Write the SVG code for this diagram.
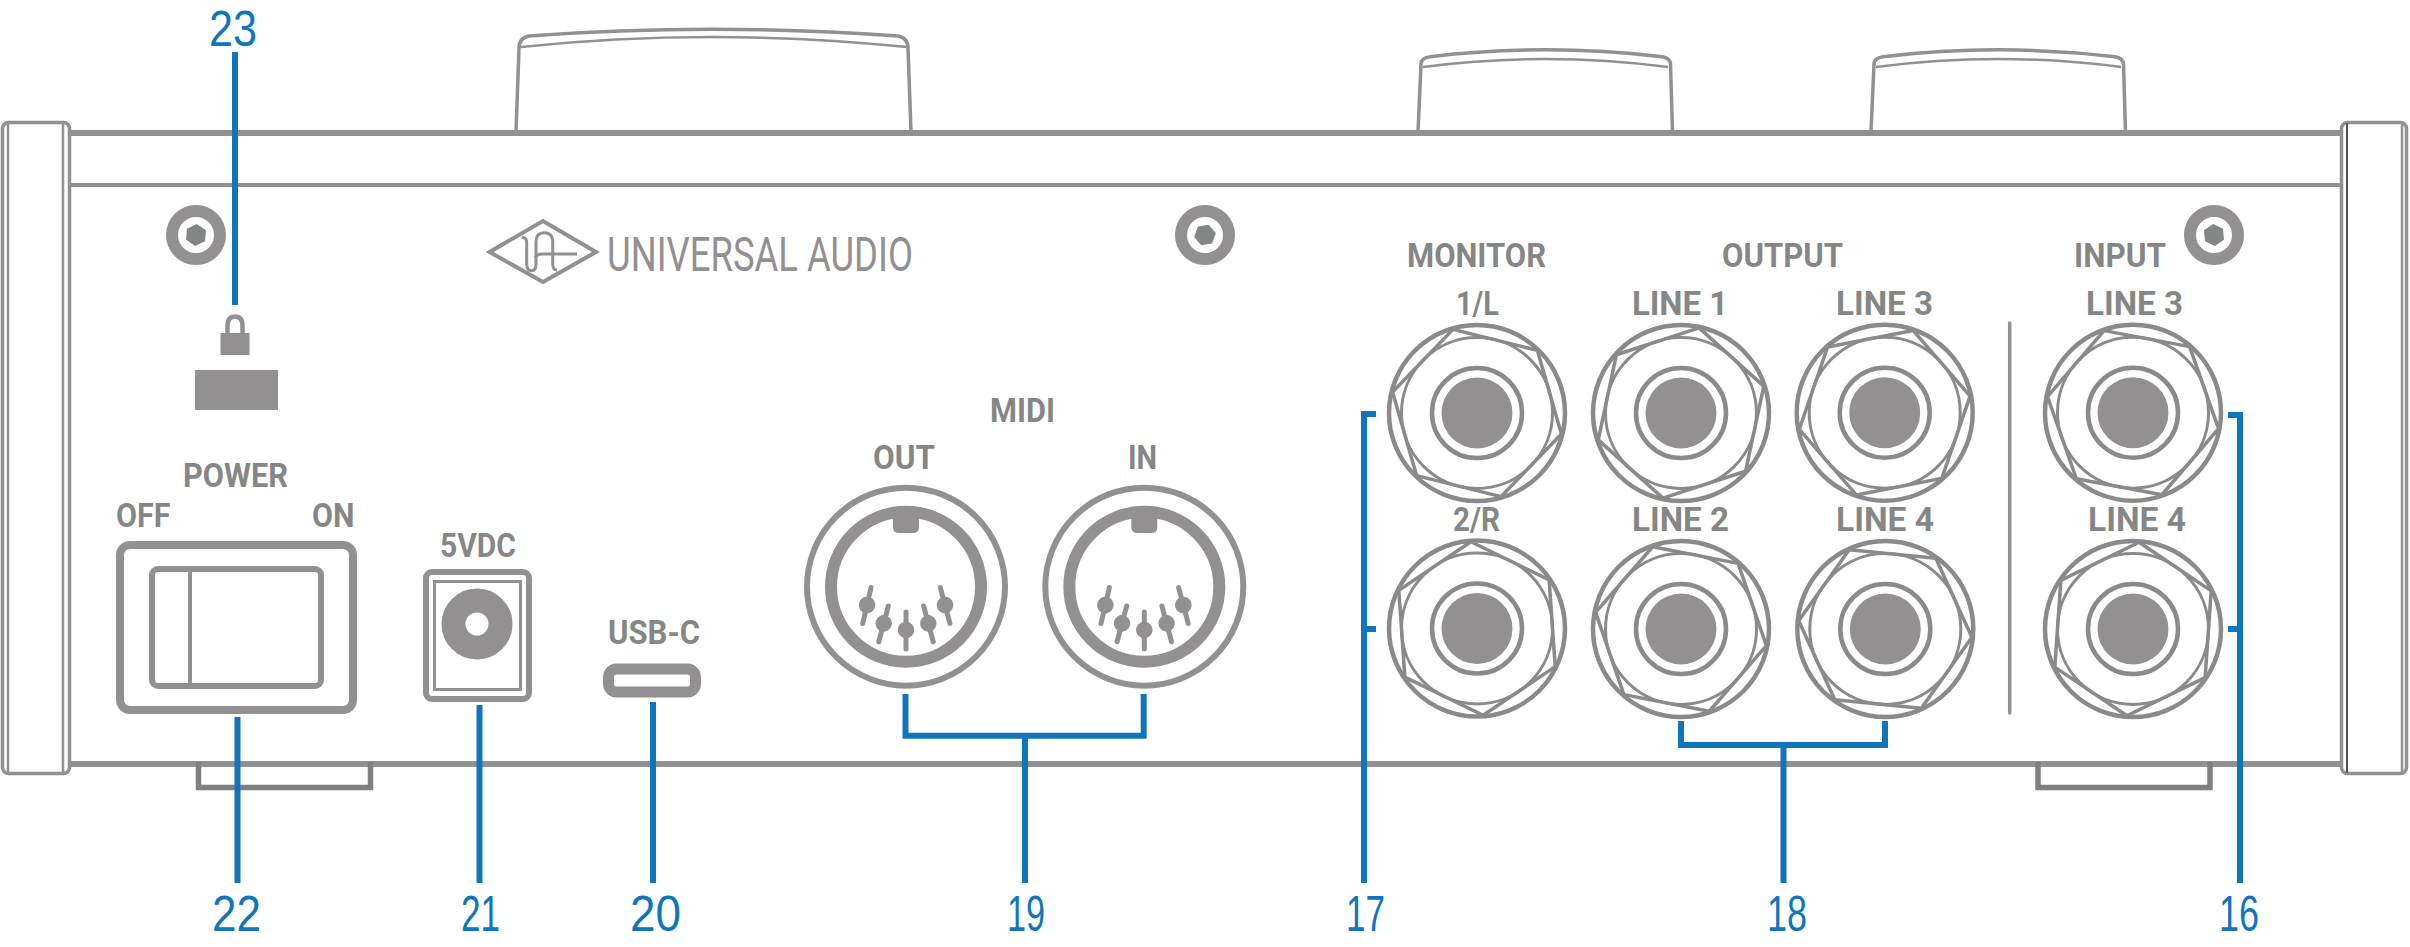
<svg xmlns="http://www.w3.org/2000/svg" xmlns:xlink="http://www.w3.org/1999/xlink" width="2410" height="947" viewBox="0 0 2410 947">
<style>
.g{fill:none;stroke:#929090}
.f{fill:#929090}
.h{fill:#848685}
.foot{fill:none;stroke:#808080;stroke-width:5.5px}
.lab{font-family:Roboto,"Liberation Sans",sans-serif;font-weight:700;font-size:33px;fill:#858786}
.num{font-family:"Liberation Sans",Arial,sans-serif;font-weight:400;font-size:50px;fill:#0f75bc}
.logo{font-family:Roboto,"Liberation Sans",sans-serif;font-weight:400;font-size:48px;fill:#929090}
.j{fill:none;stroke:#8a8a8a}
.c{fill:none;stroke:#0f75bc;stroke-width:6}
.pin{stroke:#929090;stroke-width:5;stroke-linecap:round;fill:none}
</style>
<defs>
<polygon id="hex" class="j" stroke-width="3.5" stroke-linejoin="round" points="87,0 43.5,75.34 -43.5,75.34 -87,0 -43.5,-75.34 43.5,-75.34"/>
<g id="jack">
<circle r="88" class="j" stroke-width="4.5"/>
<circle r="75.5" class="j" stroke-width="3"/>
<circle r="45" class="j" stroke-width="4.5"/>
<circle r="35.5" class="f"/>
</g>
<polygon id="shex" class="h" points="11,0 5.5,9.53 -5.5,9.53 -11,0 -5.5,-9.53 5.5,-9.53"/>
<g id="screw">
<circle r="24" class="g" stroke-width="12"/>
</g>
<g id="pin">
<line y1="-18" y2="19" class="pin"/>
<circle r="8.3" class="f"/>
</g>
<g id="din">
<circle r="99" class="g" stroke-width="6"/>
<circle r="75" class="g" stroke-width="12"/>
<path class="f" d="M-13 -72H13V-60Q13 -53.700 7 -53.700H-7Q-13 -53.700 -13 -60Z"/>
<use xlink:href="#pin" href="#pin" transform="translate(0 43.3)"/>
<use xlink:href="#pin" href="#pin" transform="translate(-22.3 36.7) rotate(15)"/>
<use xlink:href="#pin" href="#pin" transform="translate(-39 18.3) rotate(13)"/>
<use xlink:href="#pin" href="#pin" transform="translate(22.3 36.7) rotate(-15)"/>
<use xlink:href="#pin" href="#pin" transform="translate(39 18.3) rotate(-15)"/>
</g>
<g id="smallknob">
<path class="g" stroke-width="3.5" d="M0 92L3 24Q3 18 12 16.700Q127 3 244 16.700Q252 18 252.500 24L254.500 92"/>
<path class="g" stroke-width="2.500" d="M5 27Q127 11 250 27"/>
</g>
</defs>

<g id="chassis">
<rect x="2.500" y="122.500" width="67" height="651" rx="6" class="g" stroke-width="3.5"/>
<line x1="8" y1="123" x2="8" y2="773" class="g" stroke-width="2.500"/>
<line x1="63" y1="123" x2="63" y2="773" class="g" stroke-width="2.500"/>
<rect x="2341.500" y="122.500" width="65" height="651" rx="6" class="g" stroke-width="3.5"/>
<line x1="2347" y1="123" x2="2347" y2="773" stroke="#555" stroke-width="2"/>
<line x1="2402" y1="123" x2="2402" y2="773" class="g" stroke-width="2.500"/>
<line x1="69" y1="133" x2="2341" y2="133" class="g" stroke-width="6"/>
<line x1="69" y1="185" x2="2341" y2="185" class="g" stroke-width="4"/>
<line x1="69" y1="764" x2="2341" y2="764" class="g" stroke-width="6"/>
<path d="M198.500 762V787.500H370.500V762" class="foot"/>
<path d="M2038 762V787.500H2210V762" class="foot"/>
<line x1="2009.700" y1="323" x2="2009.700" y2="713" class="g" stroke-width="3.500" stroke-linecap="round"/>
</g>

<g id="knob-1">
<path class="g" stroke-width="3.5" d="M516 132L519 48Q519 38 529 36Q710 22.600 898 36Q908 38 908 48L911 132"/>
<path class="g" stroke-width="2.500" d="M521 47Q710 27 907 47"/>
</g>
<use id="knob-2" xlink:href="#smallknob" href="#smallknob" x="1418" y="40"/>
<use id="knob-3" xlink:href="#smallknob" href="#smallknob" x="1871" y="40"/>

<g id="screw-1" transform="translate(196 235)"><use xlink:href="#screw" href="#screw"/><use xlink:href="#shex" href="#shex" transform="rotate(34)"/></g>
<g id="screw-2" transform="translate(1205 235)"><use xlink:href="#screw" href="#screw"/><use xlink:href="#shex" href="#shex" transform="rotate(50)"/></g>
<g id="screw-3" transform="translate(2214 235)"><use xlink:href="#screw" href="#screw"/><use xlink:href="#shex" href="#shex" transform="rotate(25)"/></g>

<g id="logo">
<polygon points="489.500,252 543,221 596,252 543,282" class="g" stroke-width="4"/>
<path class="g" stroke-width="3" d="M521.700 237Q526.700 238 526.700 242V264Q526.700 270.700 531.700 270.700Q536 270.700 536 264V242Q536 232.700 544 232.700Q552.700 232.700 552.700 242V264Q552.700 270 557 270"/>
<path class="g" stroke-width="3" d="M535 258Q537 254 542 254H577"/>
<text class="logo" x="607" y="271" textLength="306" lengthAdjust="spacingAndGlyphs">UNIVERSAL AUDIO</text>
</g>

<g id="lock">
<path class="g" stroke-width="4.500" d="M227.500 335V326Q227.500 316.500 235 316.500Q242.500 316.500 242.500 326V335"/>
<rect x="220.500" y="333" width="29" height="22" class="f"/>
<rect x="195" y="370" width="83" height="40" class="f"/>
</g>

<g id="power-switch">
<text class="lab" x="183" y="487" textLength="105" lengthAdjust="spacingAndGlyphs">POWER</text>
<text class="lab" x="116" y="527" textLength="54.500" lengthAdjust="spacingAndGlyphs">OFF</text>
<text class="lab" x="312" y="527" textLength="42.500" lengthAdjust="spacingAndGlyphs">ON</text>
<rect x="120" y="545" width="233" height="165" rx="10" class="g" stroke-width="8"/>
<rect x="152" y="569" width="169" height="117" rx="6" class="g" stroke-width="6"/>
<line x1="190" y1="569" x2="190" y2="686" class="g" stroke-width="4"/>
</g>

<g id="dc-jack">
<text class="lab" x="440" y="557" textLength="76" lengthAdjust="spacingAndGlyphs">5VDC</text>
<rect x="426" y="572" width="103" height="127" rx="6" class="g" stroke-width="6"/>
<rect x="434.500" y="581.500" width="86" height="108" class="g" stroke-width="3"/>
<circle cx="477" cy="624" r="23.500" class="g" stroke-width="24"/>
</g>

<g id="usb-c">
<text class="lab" x="608" y="644" textLength="92" lengthAdjust="spacingAndGlyphs">USB-C</text>
<rect x="608.500" y="669" width="87" height="23" rx="8" class="g" stroke-width="11"/>
</g>

<g id="midi">
<text class="lab" x="990" y="422" textLength="65" lengthAdjust="spacingAndGlyphs">MIDI</text>
</g>
<g id="midi-out">
<text class="lab" x="873" y="469" textLength="62" lengthAdjust="spacingAndGlyphs">OUT</text>
<use xlink:href="#din" href="#din" transform="translate(906 586.700)"/>
</g>
<g id="midi-in">
<text class="lab" x="1128" y="469" textLength="29" lengthAdjust="spacingAndGlyphs">IN</text>
<use xlink:href="#din" href="#din" transform="translate(1144.300 586.700)"/>
</g>

<g id="group-labels">
<text class="lab" x="1407" y="267" textLength="139" lengthAdjust="spacingAndGlyphs">MONITOR</text>
<text class="lab" x="1722" y="267" textLength="121" lengthAdjust="spacingAndGlyphs">OUTPUT</text>
<text class="lab" x="2074" y="267" textLength="92" lengthAdjust="spacingAndGlyphs">INPUT</text>
</g>

<g id="monitor-1">
<text class="lab" x="1456" y="315" textLength="43" lengthAdjust="spacingAndGlyphs">1/L</text>
<g transform="translate(1477 413)"><use xlink:href="#jack" href="#jack"/><use xlink:href="#hex" href="#hex" transform="rotate(14)"/></g>
</g>
<g id="monitor-2">
<text class="lab" x="1453" y="531" textLength="47" lengthAdjust="spacingAndGlyphs">2/R</text>
<g transform="translate(1477 628.500)"><use xlink:href="#jack" href="#jack"/><use xlink:href="#hex" href="#hex" transform="rotate(26)"/></g>
</g>
<g id="output-line-1">
<text class="lab" x="1632" y="315" textLength="96" lengthAdjust="spacingAndGlyphs">LINE 1</text>
<g transform="translate(1681 413)"><use xlink:href="#jack" href="#jack"/><use xlink:href="#hex" href="#hex" transform="rotate(42)"/></g>
</g>
<g id="output-line-2">
<text class="lab" x="1632" y="531" textLength="97" lengthAdjust="spacingAndGlyphs">LINE 2</text>
<g transform="translate(1681 629)"><use xlink:href="#jack" href="#jack"/><use xlink:href="#hex" href="#hex" transform="rotate(11)"/></g>
</g>
<g id="output-line-3">
<text class="lab" x="1836" y="315" textLength="97" lengthAdjust="spacingAndGlyphs">LINE 3</text>
<g transform="translate(1884.700 412.700)"><use xlink:href="#jack" href="#jack"/><use xlink:href="#hex" href="#hex" transform="rotate(49)"/></g>
</g>
<g id="output-line-4">
<text class="lab" x="1836" y="531" textLength="98" lengthAdjust="spacingAndGlyphs">LINE 4</text>
<g transform="translate(1885.300 629)"><use xlink:href="#jack" href="#jack"/><use xlink:href="#hex" href="#hex" transform="rotate(5.500)"/></g>
</g>
<g id="input-line-3">
<text class="lab" x="2086" y="315" textLength="97" lengthAdjust="spacingAndGlyphs">LINE 3</text>
<g transform="translate(2133 412.700)"><use xlink:href="#jack" href="#jack"/><use xlink:href="#hex" href="#hex" transform="rotate(10.600)"/></g>
</g>
<g id="input-line-4">
<text class="lab" x="2088" y="531" textLength="98" lengthAdjust="spacingAndGlyphs">LINE 4</text>
<g transform="translate(2133 629)"><use xlink:href="#jack" href="#jack"/><use xlink:href="#hex" href="#hex" transform="rotate(34)"/></g>
</g>

<g id="connectors">
<path class="c" d="M235 52V305"/>
<path class="c" d="M237.500 717V883"/>
<path class="c" d="M479.500 705V883"/>
<path class="c" d="M653 702V883"/>
<path class="c" d="M905.500 694V735.700H1143.700V694"/>
<path class="c" d="M1025 736V883"/>
<path class="c" d="M1376 414H1364V883"/>
<path class="c" d="M1376 629H1364"/>
<path class="c" d="M1681 721V745H1885V721"/>
<path class="c" d="M1783.500 745V883"/>
<path class="c" d="M2228 415H2240V883"/>
<path class="c" d="M2228 629H2240"/>
</g>

<g id="numbers">
<text class="num" x="209" y="45.500" textLength="48" lengthAdjust="spacingAndGlyphs">23</text>
<text class="num" x="212" y="931" textLength="49" lengthAdjust="spacingAndGlyphs">22</text>
<text class="num" x="461" y="931" textLength="39" lengthAdjust="spacingAndGlyphs">21</text>
<text class="num" x="630" y="931" textLength="51" lengthAdjust="spacingAndGlyphs">20</text>
<text class="num" x="1007" y="931" textLength="38" lengthAdjust="spacingAndGlyphs">19</text>
<text class="num" x="1346" y="931" textLength="39" lengthAdjust="spacingAndGlyphs">17</text>
<text class="num" x="1767" y="931" textLength="40" lengthAdjust="spacingAndGlyphs">18</text>
<text class="num" x="2219" y="931" textLength="40" lengthAdjust="spacingAndGlyphs">16</text>
</g>
</svg>
